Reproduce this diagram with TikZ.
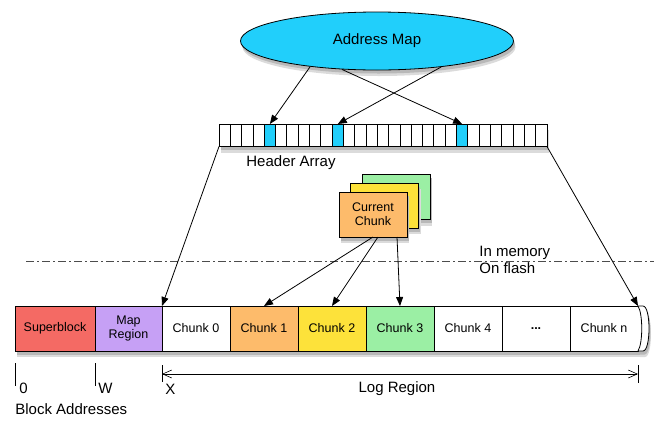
\documentclass[tikz,border=0pt]{standalone}
\usepackage{fontspec}
\setmainfont{Liberation Sans}
\usetikzlibrary{shapes.geometric, arrows.meta, positioning}
\definecolor{mapblue}{RGB}{33,207,251}
\definecolor{superred}{RGB}{244,106,100}
\definecolor{mappurple}{RGB}{198,160,245}
\definecolor{chunkorange}{RGB}{253,187,107}
\definecolor{chunkyellow}{RGB}{253,226,58}
\definecolor{chunkgreen}{RGB}{155,239,164}

\begin{document}
\begin{tikzpicture}[
  x=1pt, y=-1pt, line width=0.8pt,
  shadowed/.style={preaction={draw=none, fill=black!14, transform canvas={shift={(2pt,-6pt)}}},
                   preaction={draw=none, fill=black!28, transform canvas={shift={(1.5pt,-3.5pt)}}}},
  chunk/.style={rectangle, draw, fill=white, minimum width=68pt, minimum height=45pt,
                inner sep=0pt, outer sep=0pt, align=center,
                font=\fontsize{12.5}{14}\selectfont, shadowed},
  hcell/.style={rectangle, draw, fill=white, minimum width=11.31pt, minimum height=22.5pt,
                inner sep=0pt, outer sep=0pt, shadowed},
  arrow/.style={-{Triangle[length=9pt, width=7pt]}},
  barb/.style={{Straight Barb[length=9pt, width=8pt]}-{Straight Barb[length=9pt, width=8pt]}},
  txt/.style={font=\fontsize{15}{18}\selectfont, inner sep=0pt}
]
\useasboundingbox (0,0) rectangle (654,421);

% --- Address map and header array ---
\node[ellipse, draw, fill=mapblue, minimum width=273pt, minimum height=58pt, shadowed, txt] (amap) at (377,41) {Address Map};

\foreach \i in {0,...,28}{
  \pgfmathtruncatemacro\hit{(\i==4)||(\i==10)||(\i==21)}
  \ifnum\hit=1 \def\cellcol{mapblue}\else\def\cellcol{white}\fi
  \node[hcell, fill=\cellcol, anchor=north west] (h\i) at ({219+\i*11.31},124) {};
}
\node[txt] (hlabel) at (291,163) {Header Array};

% --- Current chunk stack ---
\node[chunk, fill=chunkgreen] (stack2) at (396,197) {};
\node[chunk, fill=chunkyellow] (stack1) at (384.5,205.5) {};
\node[chunk, fill=chunkorange] (cur) at (373,214.5) {Current\\Chunk};

% --- Memory / flash boundary ---
\coordinate (memL) at (26,261);
\coordinate (memR) at (654,261);
\draw[gray!60!black, dash pattern=on 8pt off 3pt on 2pt off 3pt] (memL) -- (memR);
\node[txt, anchor=west] (inmem) at (479,253) {In memory};
\node[txt, anchor=west] (onflash) at (479,268) {On flash};

% --- Flash layout ---
\node[chunk, minimum width=80pt, fill=superred, anchor=north west] (sb) at (15,306) {Superblock};
\node[chunk, minimum width=67pt, fill=mappurple, right=0pt of sb] (mr) {Map\\Region};
\node[chunk, right=0pt of mr] (c0) {Chunk 0};
\node[chunk, fill=chunkorange, right=0pt of c0] (c1) {Chunk 1};
\node[chunk, fill=chunkyellow, right=0pt of c1] (c2) {Chunk 2};
\node[chunk, fill=chunkgreen, right=0pt of c2] (c3) {Chunk 3};
\node[chunk, right=0pt of c3] (c4) {Chunk 4};
\node[chunk, right=0pt of c4] (cdots) {\textbf{...}};
\node[chunk, right=0pt of cdots] (cn) {Chunk n};
\draw[fill=white, shadowed] (cn.north east) -- ++(5,0) .. controls +(8,0) and +(8,0) .. ([xshift=5pt]cn.south east) -- (cn.south east);
\draw (cn.north east) .. controls +(5,8) and +(5,-8) .. (cn.south east);

% --- Connectors ---
\draw[arrow] (amap.201.8) -- (h4.north);
\draw[arrow] (amap.219.5) -- (h21.north);
\draw[arrow] (amap.338.2) -- (h10.north);
\draw[arrow] (h0.south west) -- (c0.north west);
\draw[arrow] (h28.south east) -- (cn.north east);
\draw[arrow] (cur.south) -- (c1.north);
\draw[arrow] ([xshift=5pt]cur.south) -- (c2.north);
\draw[arrow] ([xshift=24pt]cur.south) -- (c3.north);

% --- Addresses ---
\draw ([yshift=-12pt]sb.south west) -- ++(0,23);
\draw ([yshift=-12pt]mr.south west) -- ++(0,23);
\draw ([yshift=-14pt]c0.south west) -- ++(0,17);
\draw ([yshift=-14pt]cn.south east) -- ++(0,18);
\coordinate (logL) at ([yshift=-23pt]c0.south west);
\coordinate (logR) at ([yshift=-23pt]cn.south east);
\draw[barb, line width=0.6pt] (logL) -- (logR);
\node[txt, anchor=west] (zero) at (19,388) {0};
\node[txt, anchor=west] (wmark) at (98,388) {W};
\node[txt, anchor=west] (xmark) at (165,389) {X};
\node[txt] (logreg) at (397,389) {Log Region};
\node[txt, anchor=west] (blockaddr) at (15,409) {Block Addresses};

\end{tikzpicture}
\end{document}
